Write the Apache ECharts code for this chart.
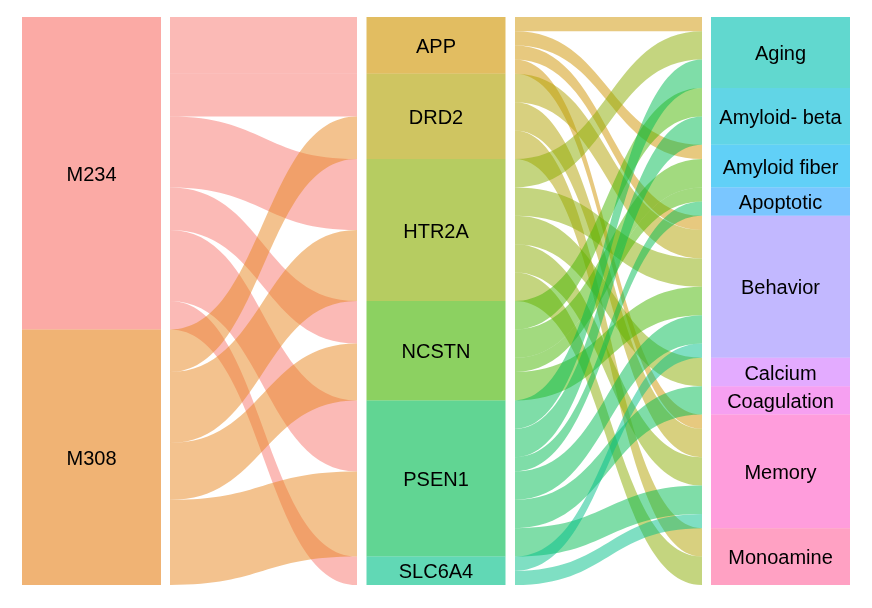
<!DOCTYPE html>
<html>
<head>
<meta charset="utf-8">
<script src="https://cdn.jsdelivr.net/npm/echarts@6/dist/echarts.min.js"></script>
<style>
html,body{margin:0;padding:0;background:#fff;}
#chart{width:872px;height:608px;}
</style>
</head>
<body>
<div id="chart"></div>
<script>
// ---- data ----
const leftNodes = ['M234', 'M308'];
const midNodes = ['APP', 'DRD2', 'HTR2A', 'NCSTN', 'PSEN1', 'SLC6A4'];
const rightNodes = ['Aging', 'Amyloid- beta', 'Amyloid fiber', 'Apoptotic', 'Behavior', 'Calcium', 'Coagulation', 'Memory', 'Monoamine'];

const linkSources = [
  'M234','M234','M234','M234','M234','M234',
  'M308','M308','M308','M308',
  'APP','APP','APP','APP',
  'DRD2','DRD2','DRD2',
  'HTR2A','HTR2A','HTR2A','HTR2A','HTR2A',
  'NCSTN','NCSTN','NCSTN','NCSTN',
  'PSEN1','PSEN1','PSEN1','PSEN1','PSEN1','PSEN1',
  'SLC6A4','SLC6A4'
];
const linkTargets = [
  'APP','DRD2','HTR2A','NCSTN','PSEN1','SLC6A4',
  'DRD2','HTR2A','NCSTN','PSEN1',
  'Aging','Amyloid fiber','Behavior','Memory',
  'Behavior','Memory','Monoamine',
  'Aging','Behavior','Calcium','Memory','Monoamine',
  'Amyloid- beta','Amyloid fiber','Apoptotic','Behavior',
  'Aging','Amyloid- beta','Apoptotic','Behavior','Coagulation','Memory',
  'Behavior','Memory'
];
const linkValues = [
  4,3,5,3,5,2,
  3,5,4,6,
  1,1,1,1,
  2,2,2,
  2,2,2,2,2,
  2,2,1,2,
  2,2,1,2,2,2,
  1,1
];

// ---- colours: ggplot-style hue palette (HCL) ----
function hcl(h, c, l) {
  const hr = h * Math.PI / 180;
  const U = c * Math.cos(hr), V = c * Math.sin(hr);
  const Yn = 100, uN = 0.1978398, vN = 0.4683363;
  const Y = l > 8 ? Yn * Math.pow((l + 16) / 116, 3) : Yn * l / 903.3;
  const u = U / (13 * l) + uN, v = V / (13 * l) + vN;
  const X = 9.0 * Y * u / (4 * v);
  const Z = -X / 3 - 5 * Y + 3 * Y / v;
  const lin = [
    ( 3.240479 * X - 1.537150 * Y - 0.498535 * Z) / Yn,
    (-0.969256 * X + 1.875992 * Y + 0.041556 * Z) / Yn,
    ( 0.055648 * X - 0.204043 * Y + 1.057311 * Z) / Yn
  ];
  const out = lin.map(t => {
    let s = t <= 0.0031308 ? 12.92 * t : 1.055 * Math.pow(t, 1 / 2.4) - 0.055;
    s = Math.max(0, Math.min(1, s));
    return Math.round(s * 255);
  });
  return 'rgb(' + out.join(',') + ')';
}

const allNodes = leftNodes.concat(midNodes, rightNodes);
const n = allNodes.length;
const colors = allNodes.map((_, i) => hcl(15 + i * 360 / n, 100, 65));

const links = linkSources.map((s, i) => ({ source: s, target: linkTargets[i], value: linkValues[i] }));

function nodesWith(opacity) {
  return allNodes.map((name, i) => ({
    name: name,
    itemStyle: { color: colors[i], opacity: opacity, borderWidth: 0 }
  }));
}

const chart = echarts.init(document.getElementById('chart'), null, { renderer: 'canvas' });
chart.setOption({
  backgroundColor: '#ffffff',
  animation: false,
  series: [
    {
      // flows (nodes widened to leave white gaps next to the strata)
      type: 'sankey',
      left: 12, right: 12, top: 17, bottom: 23,
      nodeWidth: 158,
      nodeGap: 0,
      layoutIterations: 0,
      nodeAlign: 'justify',
      data: nodesWith(0),
      links: links,
      label: { show: false },
      lineStyle: { color: 'source', opacity: 0.5, curveness: 0.5 },
      emphasis: { disabled: true },
      z: 1
    },
    {
      // strata + labels
      type: 'sankey',
      left: 22, right: 22, top: 17, bottom: 23,
      nodeWidth: 139,
      nodeGap: 0,
      layoutIterations: 0,
      nodeAlign: 'justify',
      data: nodesWith(0.62),
      links: links,
      label: {
        show: true,
        position: 'inside',
        color: '#000',
        fontSize: 20,
        offset: [0, 2],
        fontFamily: 'Liberation Sans, Arial, sans-serif'
      },
      lineStyle: { opacity: 0 },
      emphasis: { disabled: true },
      z: 2
    }
  ]
});
</script>
</body>
</html>
